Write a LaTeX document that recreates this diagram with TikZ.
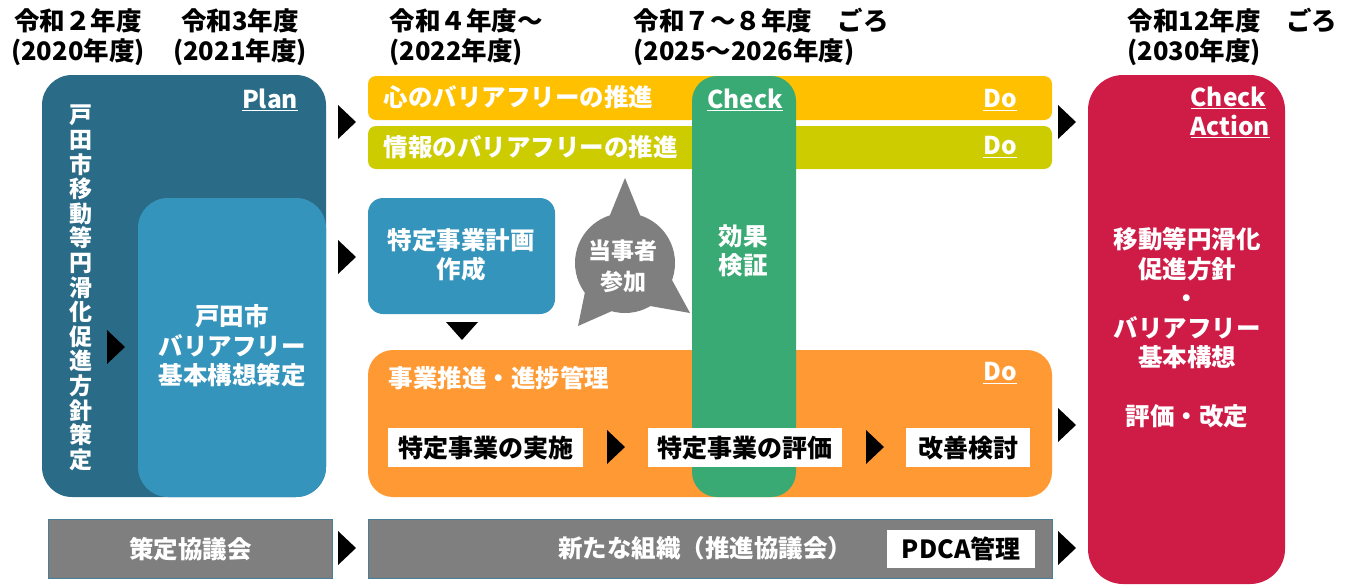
\documentclass[tikz,border=0pt]{standalone}
\usepackage{fontspec}
\setmainfont{Noto Sans CJK JP}
\usepackage{tikz}
\usetikzlibrary{positioning, calc}
\usepackage{xcolor}
\definecolor{PlanDark}{HTML}{2A6C87}
\definecolor{PlanLight}{HTML}{3594BB}
\definecolor{DoYellow}{HTML}{FFC000}
\definecolor{DoLime}{HTML}{CCCC00}
\definecolor{DoOrange}{HTML}{FF9933}
\definecolor{CheckGreen}{HTML}{3AAA74}
\definecolor{ActRed}{HTML}{CE1C47}
\definecolor{Council}{HTML}{7F7F7F}
\definecolor{CouncilEdge}{HTML}{4A7F98}

\tikzset{
  arrowtri/.pic={\fill[black] (-9,-17) -- (9,0) -- (-9,17) -- cycle;},
  downtri/.pic={\fill[black] (-16,-9) -- (16,-9) -- (0,9) -- cycle;},
}

\begin{document}
\begin{tikzpicture}[x=1pt, y=-1pt,
    font=\bfseries\fontsize{24.5}{29.5}\selectfont,
    panel/.style={anchor=north west, inner sep=0pt, outer sep=0pt, rounded corners=#1},
    panel/.default=25pt,
    boxtext/.style={text=white, align=center},
    tag/.style={text=white},
    taskbox/.style={anchor=north west, fill=white, inner sep=0pt, minimum height=39pt, text=black,
      font=\bfseries\fontsize{25}{29.5}\selectfont},
    council/.style={anchor=north west, inner sep=0pt, fill=Council, draw=CouncilEdge, line width=1.2pt, minimum height=59pt},
    year/.style={font=\bfseries\fontsize{25.5}{30}\selectfont, align=center},
  ]
  \useasboundingbox (0,0) rectangle (1346,584);

  % years
  \node[year] (y2020) at (78,37) {令和２年度\\(2020年度)};
  \node[year] (y2021) at (240,37) {令和3年度\\(2021年度)};
  \node[year, align=left, anchor=west] (y2022) at (386,37) {令和４年度～\\(2022年度)};
  \node[year, align=left, anchor=west] (y2025) at (630,37) {令和７～８年度　ごろ\\(2025～2026年度)};
  \node[year, align=left, anchor=west] (y2030) at (1124,37) {令和12年度　ごろ\\(2030年度)};

  % plan
  \node[panel=30pt, fill=PlanDark, minimum width=284pt, minimum height=422pt] (plan) at (42,75) {};
  \node[panel=30pt, fill=PlanLight, minimum width=188pt, minimum height=299pt] (basic) at (138,198) {};
  \node[tag] (plantag) at (270,100) {\underline{Plan}};
  \node[boxtext, font=\bfseries\fontsize{23}{24.6}\selectfont] (policy)
    at (81,288) {戸\\田\\市\\移\\動\\等\\円\\滑\\化\\促\\進\\方\\針\\策\\定};
  \node[boxtext] (basictext) at (232,346) {戸田市\\バリアフリー\\基本構想策定};
  \pic at (116,347) {arrowtri};

  % do
  \node[panel=8pt, fill=DoYellow, minimum width=684pt, minimum height=44pt] (heart) at (368,76) {};
  \node[panel=8pt, fill=DoLime, minimum width=684pt, minimum height=43pt] (info) at (368,126) {};
  \node[tag, anchor=west] (hearttext) at (380,97) {心のバリアフリーの推進};
  \node[tag, anchor=west] (infotext) at (380,147) {情報のバリアフリーの推進};
  \node[tag] (heartdo) at (1000,100) {\underline{Do}};
  \node[tag] (infodo) at (1000,147) {\underline{Do}};

  \node[panel=15pt, fill=PlanLight, minimum width=187pt, minimum height=116pt] (plan2) at (368,198) {};
  \node[boxtext] (plan2text) at (461,255) {特定事業計画\\作成};
  \pic at (462,331) {downtri};

  % bubble
  \fill[Council] (625,263) circle (50);
  \fill[Council] (610,215) -- (625,178) -- (640,215) -- cycle;
  \fill[Council] (585,292) -- (578,326) -- (612,311) -- cycle;
  \fill[Council] (672,280) -- (690,313) -- (650,306) -- cycle;
  \node[boxtext, font=\bfseries\fontsize{23}{31}\selectfont] (voice) at (623,266) {当事者\\参加};

  \node[panel=25pt, fill=DoOrange, minimum width=684pt, minimum height=147pt] (promo) at (368,350) {};
  \node[tag, anchor=west] (promotext) at (385,378) {事業推進・進捗管理};
  \node[tag] (promodo) at (1000,373) {\underline{Do}};

  % check
  \node[panel=25pt, fill=CheckGreen, minimum width=104pt, minimum height=421pt] (check) at (692,76) {};
  \node[tag] (checktag) at (745,100) {\underline{Check}};
  \node[boxtext] (checktext) at (743,251) {効果\\検証};

  \node[taskbox, minimum width=195pt] (exec) at (388,428) {特定事業の実施};
  \node[taskbox, minimum width=194pt] (eval) at (648,428) {特定事業の評価};
  \node[taskbox, minimum width=124pt] (improve) at (906,428) {改善検討};
  \pic at (616,447) {arrowtri};
  \pic at (875,447) {arrowtri};

  % action
  \node[panel=35pt, fill=ActRed, minimum width=197pt, minimum height=509pt] (act) at (1088,75) {};
  \node[tag, align=left, anchor=north west] (acttag) at (1187,83) {\underline{Check}\\\underline{Action}};
  \node[boxtext] (acttext) at (1187,328)
    {移動等円滑化\\促進方針\\・\\バリアフリー\\基本構想\\[29.5pt]評価・改定};

  % councils
  \node[council, minimum width=284pt] (council1) at (48,519) {};
  \node[text=white] at (council1) {策定協議会};
  \node[council, minimum width=684pt] (council2) at (368,519) {};
  \node[text=white] (council2text) at (705,548) {新たな組織（推進協議会）};
  \node[taskbox, minimum width=148pt, minimum height=38pt] (pdca) at (887,530) {PDCA管理};

  % arrows between stages
  \pic at (347,122) {arrowtri};
  \pic at (347,257) {arrowtri};
  \pic at (347,548) {arrowtri};
  \pic at (1067,122) {arrowtri};
  \pic at (1067,425) {arrowtri};
  \pic at (1067,548) {arrowtri};
\end{tikzpicture}
\end{document}
